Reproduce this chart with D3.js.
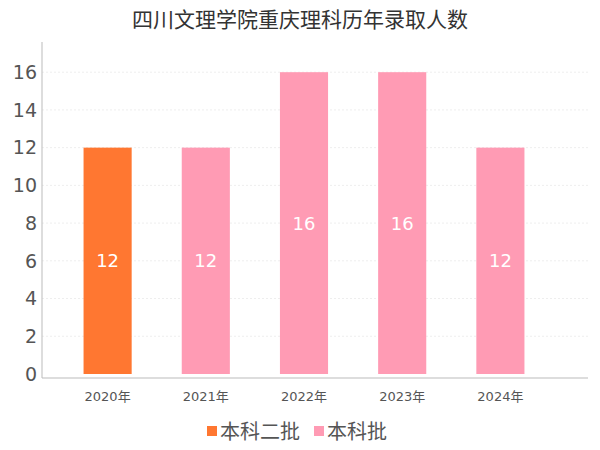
<!DOCTYPE html>
<html>
<head>
<meta charset="utf-8">
<script src="https://cdn.jsdelivr.net/npm/d3@7"></script>
<style>
body { margin: 0; background: #fff; }
text { font-family: "DejaVu Sans", "Noto Sans CJK SC", sans-serif; }
</style>
</head>
<body>
<div id="chart"></div>
<script>
var years = ["2020年", "2021年", "2022年", "2023年", "2024年"];
var counts = [12, 12, 16, 16, 12];
var batches = ["本科二批", "本科批", "本科批", "本科批", "本科批"];
var legendNames = ["本科二批", "本科批"];
var legendColors = ["#ff7731", "#ff9bb4"];
var yTicks = [0, 2, 4, 6, 8, 10, 12, 14, 16];

var width = 600, height = 450;

var svg = d3.select("#chart").append("svg")
    .attr("width", width)
    .attr("height", height);

var color = d3.scaleOrdinal().domain(legendNames).range(legendColors);

var x = d3.scaleBand().domain(years).range([59, 549])
    .paddingInner(0.51).paddingOuter(0.25);
var y = d3.scaleLinear().domain([0, 17.6]).range([374, 42]);

svg.append("text")
    .attr("x", width / 2)
    .attr("y", 27)
    .attr("text-anchor", "middle")
    .style("font-size", "21px")
    .style("fill", "#333")
    .text("四川文理学院重庆理科历年录取人数");

// grid
svg.selectAll(".grid").data(yTicks.slice(1)).enter().append("line")
    .attr("x1", 42).attr("x2", 588)
    .attr("y1", function(d){ return y(d); })
    .attr("y2", function(d){ return y(d); })
    .style("stroke", "#eee")
    .style("stroke-dasharray", "2,2");

// y axis
svg.append("line")
    .attr("x1", 42).attr("x2", 42).attr("y1", 42).attr("y2", 378)
    .style("stroke", "#bbb");
svg.selectAll(".ylab").data(yTicks).enter().append("text")
    .attr("x", 37)
    .attr("y", function(d){ return y(d); })
    .attr("dy", "0.36em")
    .attr("text-anchor", "end")
    .style("font-size", "19px")
    .style("fill", "#555")
    .text(function(d){ return d; });

// x axis
svg.append("line")
    .attr("x1", 42).attr("x2", 588).attr("y1", 378).attr("y2", 378)
    .style("stroke", "#bbb");
svg.selectAll(".xlab").data(years).enter().append("text")
    .attr("x", function(d){ return x(d) + x.bandwidth() / 2; })
    .attr("y", 401)
    .attr("text-anchor", "middle")
    .style("font-size", "13px")
    .style("fill", "#555")
    .text(function(d){ return d; });

// bars
svg.selectAll(".bar").data(counts).enter().append("rect")
    .attr("x", function(d, i){ return x(years[i]); })
    .attr("y", function(d){ return y(d); })
    .attr("width", x.bandwidth())
    .attr("height", function(d){ return y(0) - y(d); })
    .style("fill", function(d, i){ return color(batches[i]); });

svg.selectAll(".val").data(counts).enter().append("text")
    .attr("x", function(d, i){ return x(years[i]) + x.bandwidth() / 2; })
    .attr("y", function(d){ return (y(d) + y(0)) / 2; })
    .attr("dy", "0.36em")
    .attr("text-anchor", "middle")
    .style("font-size", "18px")
    .style("fill", "#fff")
    .text(function(d){ return d; });

// legend
var legX = [207, 314];
legendNames.forEach(function(name, i){
    svg.append("rect")
        .attr("x", legX[i]).attr("y", 426)
        .attr("width", 10).attr("height", 10)
        .style("fill", legendColors[i]);
    svg.append("text")
        .attr("x", legX[i] + 13).attr("y", 432)
        .attr("dy", "0.36em")
        .style("font-size", "20px")
        .style("fill", "#555")
        .text(name);
});
</script>
</body>
</html>
